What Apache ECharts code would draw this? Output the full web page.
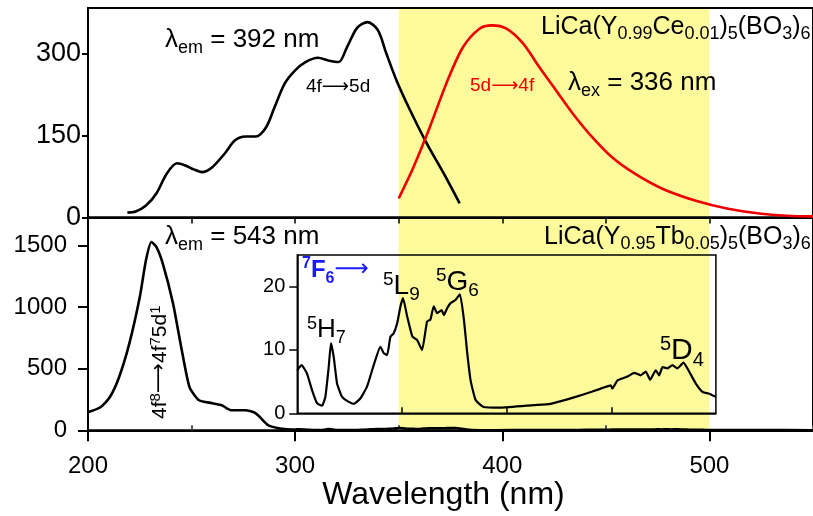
<!DOCTYPE html>
<html><head><meta charset="utf-8">
<script src="https://cdn.jsdelivr.net/npm/echarts@6/dist/echarts.min.js"></script>
<style>html,body{margin:0;padding:0;background:#fff}#c{width:813px;height:516px}</style>
</head><body><div id="c"></div>
<script>
const FONT = '"Liberation Sans", Arial, sans-serif';

// ---- Top panel: LiCa(Y0.99Ce0.01)5(BO3)6 ----
const ceExWavelength = [219,223,228,233,238,243,247,251,255,260,266,271,276,281,286,290,295,300,305,311,316,321,325,330,335,340,344,349,355.5,363.6,371.8,379.4];
const ceExIntensity  = [9,11,22,44,80,99,95,88,83,92,117,141,148,148,165,201,245,269,284,292,287,284,311,347,357,342,300,250,196,135,80,26];
const ceEmWavelength = [350,357,365,373,381,389,395,402,410,418,426,434,442,453,464,477,493,509,525,547,550];
const ceEmIntensity  = [35,91,165,245,311,345,351,345,318,274,232,190,153,110,80,53,31,16,7,2,2];

// ---- Bottom panel: LiCa(Y0.95Tb0.05)5(BO3)6 excitation ----
const tbUvWavelength = [200,206,210.5,215,220,225,228,230.6,233,236,241,245,249,253.6,260,264.6,269,276,281,287,292,296];
const tbUvIntensity  = [146,187,268,431,707,1081,1382,1528,1488,1358,1033,675,350,244,220,203,163,163,138,41,16,8];
const tbInsetWavelength = [300,302,304.6,307,309.4,311.8,313.4,315,316.1,317.4,319,321.4,324.6,327,330,333.3,336.5,339.7,341.3,342.9,344.5,346,347.7,349.3,350.5,352.5,355,357.2,359.6,362,363.6,365.2,366.8,369,370,371.6,373.2,375.6,377.7,379.6,381.2,382.8,385.2,389,397,413,421,429,437,445,449.8,450.5,453,457.7,461,464,466.5,468.6,471.3,472.9,474.5,476.9,479.2,481.6,484.5,487.2,490.4,493.6,496.8,500];
const tbInsetIntensity  = [6.8,7.6,6.3,3.7,1.6,1.2,2.6,7.3,11.1,8.9,4.7,2.6,1.8,1.5,2.3,4.2,7.6,10.5,9.5,9.2,12.1,12.6,14.2,16.9,18.2,15.3,12.1,11.6,10,14.5,14.8,16.9,15.8,16.3,15.5,16.6,17.4,17.9,18.8,14.8,9.5,5.2,2.1,1.0,0.9,1.3,1.5,2.2,3.0,3.9,4.4,3.9,5.2,5.8,6.4,6.0,6.6,5.3,6.8,6.0,7.3,7.1,7.6,7.1,8.0,6.6,4.7,3.4,3.1,2.6];
const tbTailWavelength = [510,525,550];
const tbTailIntensity  = [2,1.5,1];

// ---- ticks / ranges ----
const xRange = [200,550];
const xTickValues = [200,300,400,500];
const xMinorValues = [250,350,450,550];
const topXTickValues = [250,300,350,400,450,500];
const topYTickValues = [0,150,300];
const topYMinorValues = [75,225];
const botYTickValues = [0,500,1000,1500];
const botYMinorValues = [250,750,1250];
const insetXRange = [300,500];
const insetXTickValues = [350,400,450];
const insetYTickValues = [0,10,20];
const bandRange = [350,500];

const pairs = (xs, ys) => xs.map((x, i) => [x, ys[i]]);
const tbAll = pairs(tbUvWavelength.concat(tbInsetWavelength, tbTailWavelength),
                    tbUvIntensity.concat(tbInsetIntensity, tbTailIntensity));
const plain = v => String(v);

function rich(F, f, color, weight, dSub, dSup, arrowScale) {
  const base = {fontSize: F, fontFamily: FONT, fill: color, fontWeight: weight || 'normal'};
  return {
    n: Object.assign({}, base),
    a: Object.assign({}, base, {fontFamily: '"DejaVu Sans", sans-serif', fontWeight: 'normal', fontSize: F * (arrowScale || 1)}),
    s: Object.assign({}, base, {fontSize: f, padding: [2 * (dSub == null ? 0.3 * F : dSub), 0, 0, 0]}),
    p: Object.assign({}, base, {fontSize: f, padding: [0, 0, 2 * (dSup == null ? 0.22 * F : dSup), 0]})
  };
}
function label(x, y, text, r, rot) {
  return {type: 'text', x: x, y: y, z: 100, rotation: rot || 0,
    style: {text: text, rich: r, align: 'left', verticalAlign: 'middle', fontFamily: FONT}};
}

const chart = echarts.init(document.getElementById('c'), null, {renderer: 'canvas'});

const axisLineStyle = {color: '#000', width: 2};
function valueX(gridIndex, extra) {
  return Object.assign({type: 'value', gridIndex: gridIndex, min: xRange[0], max: xRange[1], z: 3,
    splitLine: {show: false}, axisLine: {show: true, lineStyle: axisLineStyle}}, extra);
}

const option = {
  animation: false,
  backgroundColor: '#fff',
  grid: [
    {left: 88, top: 8, width: 733, height: 209.5, show: true, borderColor: '#000', borderWidth: 2, backgroundColor: 'transparent', z: 3},
    {left: 88, top: 217.5, width: 733, height: 212.8, show: true, borderColor: '#000', borderWidth: 2, backgroundColor: 'transparent', z: 3},
    {left: 297.3, top: 255, width: 418.6, height: 158.3, show: true, borderColor: '#000', borderWidth: 1.5, backgroundColor: 'transparent', z: 3}
  ],
  xAxis: [
    valueX(0, {axisLabel: {show: false}, axisTick: {show: true, length: 6, lineStyle: {width: 1.5}, customValues: topXTickValues}}),
    valueX(1, {
      name: 'Wavelength (nm)', nameLocation: 'middle', nameGap: 46,
      nameTextStyle: {fontFamily: FONT, fontSize: 32, color: '#000', padding: [0, 14, 0, 0]},
      axisLabel: {customValues: xTickValues, formatter: plain, fontFamily: FONT, fontSize: 24, color: '#000', margin: 24},
      axisTick: {show: true, length: 11, lineStyle: {width: 2}, customValues: xTickValues}}),
    valueX(1, {axisLine: {show: false}, axisLabel: {show: false},
      axisTick: {show: true, length: 5, lineStyle: {width: 2}, customValues: xMinorValues}}),
    {type: 'value', gridIndex: 2, min: insetXRange[0], max: insetXRange[1], z: 3, splitLine: {show: false},
      axisLine: {show: true, lineStyle: {color: '#000', width: 1.5}}, axisLabel: {show: false},
      axisTick: {show: true, inside: true, length: 6, lineStyle: {width: 1.5}, customValues: insetXTickValues}}
  ],
  yAxis: [
    {type: 'value', gridIndex: 0, min: 0, max: 382.8, z: 3, splitLine: {show: false},
      axisLine: {show: true, lineStyle: axisLineStyle},
      axisLabel: {customValues: topYTickValues, formatter: plain, fontFamily: FONT, fontSize: 27, color: '#000', margin: 7},
      axisTick: {show: true, length: 6, lineStyle: {width: 2}, customValues: topYTickValues}},
    {type: 'value', gridIndex: 0, min: 0, max: 382.8, z: 3, splitLine: {show: false},
      axisLine: {show: false}, axisLabel: {show: false},
      axisTick: {show: true, length: 4, lineStyle: {width: 1.5}, customValues: topYMinorValues}},
    {type: 'value', gridIndex: 1, min: 0, max: 1727, z: 3, splitLine: {show: false},
      axisLine: {show: true, lineStyle: axisLineStyle},
      axisLabel: {customValues: botYTickValues, formatter: plain, fontFamily: FONT, fontSize: 24, color: '#000', margin: 21},
      axisTick: {show: true, length: 10, lineStyle: {width: 2}, customValues: botYTickValues}},
    {type: 'value', gridIndex: 1, min: 0, max: 1727, z: 3, splitLine: {show: false},
      axisLine: {show: false}, axisLabel: {show: false},
      axisTick: {show: true, length: 6, lineStyle: {width: 1.5}, customValues: botYMinorValues}},
    {type: 'value', gridIndex: 2, min: 0, max: 25, z: 3, splitLine: {show: false},
      axisLine: {show: true, lineStyle: {color: '#000', width: 1.5}},
      axisLabel: {customValues: insetYTickValues, formatter: plain, fontFamily: FONT, fontSize: 20, color: '#000', margin: 12},
      axisTick: {show: true, length: 8, lineStyle: {width: 1.5}, customValues: insetYTickValues}}
  ],
  series: [
    {type: 'line', xAxisIndex: 0, yAxisIndex: 0, data: [], z: 1, silent: true,
      markArea: {silent: true, itemStyle: {color: '#fdfa9c'}, data: [[{xAxis: bandRange[0]}, {xAxis: bandRange[1]}]]}},
    {type: 'line', xAxisIndex: 1, yAxisIndex: 2, data: [], z: 1, silent: true,
      markArea: {silent: true, itemStyle: {color: '#fdfa9c'}, data: [[{xAxis: bandRange[0]}, {xAxis: bandRange[1]}]]}},
    {type: 'line', xAxisIndex: 0, yAxisIndex: 0, z: 5, data: pairs(ceExWavelength, ceExIntensity),
      showSymbol: false, symbol: 'none', smooth: 0.3, lineStyle: {color: '#000', width: 2.6}},
    {type: 'line', xAxisIndex: 0, yAxisIndex: 0, z: 5, data: pairs(ceEmWavelength, ceEmIntensity),
      showSymbol: false, symbol: 'none', smooth: 0.3, lineStyle: {color: '#ee0000', width: 2.6}},
    {type: 'line', xAxisIndex: 1, yAxisIndex: 2, z: 5, data: tbAll,
      showSymbol: false, symbol: 'none', smooth: 0.2, lineStyle: {color: '#000', width: 2.6}},
    {type: 'line', xAxisIndex: 3, yAxisIndex: 4, z: 5, data: pairs(tbInsetWavelength, tbInsetIntensity),
      showSymbol: false, symbol: 'none', smooth: 0.15, lineStyle: {color: '#000', width: 2.2}}
  ],
  graphic: [
    label(165, 40, '{n|λ}{s|em}{n| = 392 nm}', rich(26, 18, '#000')),
    label(306, 87, '{n|4f}{a|⟶}{n|5d}', rich(19, 13, '#000')),
    label(470, 86, '{n|5d}{a|⟶}{n|4f}', rich(19, 13, '#ee0000')),
    label(568, 83, '{n|λ}{s|ex}{n| = 336 nm}', rich(26, 18, '#000')),
    label(541, 27, '{n|LiCa(Y}{s|0.99}{n|Ce}{s|0.01}{n|)}{s|5}{n|(BO}{s|3}{n|)}{s|6}', rich(25, 18, '#000')),
    label(165, 237, '{n|λ}{s|em}{n| = 543 nm}', rich(26, 18, '#000')),
    label(544, 237, '{n|LiCa(Y}{s|0.95}{n|Tb}{s|0.05}{n|)}{s|5}{n|(BO}{s|3}{n|)}{s|6}', rich(25, 18, '#000')),
    label(160, 419, '{n|4f}{p|8}{a|⟶}{n|4f}{p|7}{n|5d}{p|1}', rich(21, 15, '#000')),
    label(302, 270, '{p|7}{n|F}{s|6}{a|⟶}', rich(24, 16, '#1a1aff', 'bold', 9, 6)),
    label(383, 286, '{p|5}{n|L}{s|9}', rich(28, 19, '#000')),
    label(436, 282, '{p|5}{n|G}{s|6}', rich(28, 19, '#000')),
    label(307, 330, '{p|5}{n|H}{s|7}', rich(26, 18, '#000')),
    label(660, 351, '{p|5}{n|D}{s|4}', rich(30, 20, '#000'))
  ]
};
option.graphic[7].rotation = Math.PI / 2;
chart.setOption(option);
</script></body></html>
